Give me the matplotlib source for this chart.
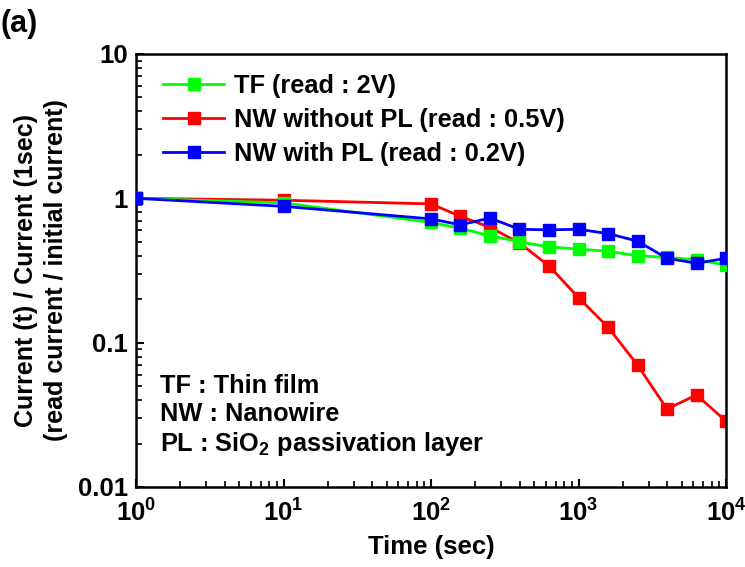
import matplotlib
matplotlib.use('Agg')
import matplotlib.pyplot as plt
from matplotlib.ticker import LogLocator, NullFormatter, FixedLocator, FixedFormatter

# Font setup (bold Arial-like)
plt.rcParams['font.family'] = ['Liberation Sans', 'DejaVu Sans']
plt.rcParams['font.weight'] = 'bold'
plt.rcParams['mathtext.fontset'] = 'custom'
plt.rcParams['mathtext.rm'] = 'Liberation Sans:bold'
plt.rcParams['mathtext.it'] = 'Liberation Sans:bold'
plt.rcParams['mathtext.bf'] = 'Liberation Sans:bold'
plt.rcParams['mathtext.default'] = 'rm'

# Data
time_sec = [1, 10, 100, 158, 251, 398, 631, 1000, 1585, 2512, 3981, 6310, 10000]
tf_ratio = [1.0, 0.93, 0.68, 0.62, 0.55, 0.50, 0.46, 0.445, 0.43, 0.40, 0.39, 0.375, 0.345]
nw_no_pl_ratio = [1.0, 0.97, 0.915, 0.75, 0.63, 0.49, 0.34, 0.205, 0.128, 0.070, 0.0347, 0.0434, 0.0286]
nw_pl_ratio = [1.0, 0.88, 0.72, 0.655, 0.73, 0.61, 0.605, 0.61, 0.57, 0.505, 0.384, 0.355, 0.384]

labels = ['TF (read : 2V)', 'NW without PL (read : 0.5V)', 'NW with PL (read : 0.2V)']
colors = ['#00ff00', '#ff0000', '#0000ff']

fig = plt.figure(figsize=(7.45, 5.67), dpi=100)
ax = fig.add_axes([0.1826, 0.1411, 0.7919, 0.7637])

# Draw series (red underneath, blue on top)
ax.plot(time_sec, tf_ratio, color=colors[0], marker='s', markersize=8, lw=2, label=labels[0], zorder=3)
ax.plot(time_sec, nw_no_pl_ratio, color=colors[1], marker='s', markersize=8, lw=2, label=labels[1], zorder=2)
ax.plot(time_sec, nw_pl_ratio, color=colors[2], marker='s', markersize=8, lw=2, label=labels[2], zorder=4)

ax.set_xscale('log')
ax.set_yscale('log')
ax.set_xlim(1, 1e4)
ax.set_ylim(0.01, 10)

# Ticks
ax.xaxis.set_major_locator(LogLocator(base=10, numticks=10))
ax.xaxis.set_minor_locator(LogLocator(base=10, subs=range(2, 10), numticks=20))
ax.xaxis.set_minor_formatter(NullFormatter())
ax.yaxis.set_major_locator(FixedLocator([0.01, 0.1, 1, 10]))
ax.yaxis.set_major_formatter(FixedFormatter(['0.01', '0.1', '1', '10']))
ax.yaxis.set_minor_locator(LogLocator(base=10, subs=range(2, 10), numticks=20))
ax.yaxis.set_minor_formatter(NullFormatter())
ax.tick_params(which='major', direction='in', length=6, width=1.5, labelsize=18.5)
ax.tick_params(axis='x', which='major', pad=9)
ax.tick_params(axis='y', which='major', pad=6)
ax.tick_params(which='minor', direction='in', length=4, width=1.2)
for sp in ax.spines.values():
    sp.set_linewidth(1.8)

# Labels
ax.set_xlabel('Time (sec)', fontsize=18.5, fontweight='bold', labelpad=6)
ax.set_ylabel('Current (t) / Current (1sec)\n(read current / initial current)',
              fontsize=18, fontweight='bold', labelpad=7, linespacing=1.3)

# Legend
ax.legend(loc='upper left', frameon=False, fontsize=18.3, handlelength=2.4,
          handletextpad=0.4, labelspacing=0.4, borderaxespad=0.2,
          bbox_to_anchor=(0.02, 0.99))

# Annotation
ax.text(0.04, 0.26, 'TF : Thin film\nNW : Nanowire\nPL : SiO$_2$ passivation layer',
        transform=ax.transAxes, fontsize=18.3, fontweight='bold', va='top', ha='left',
        linespacing=1.2)

fig.text(0.0, 0.985, '(a)', fontsize=22, fontweight='bold', va='top', ha='left')

plt.savefig('out.png', dpi=100)
